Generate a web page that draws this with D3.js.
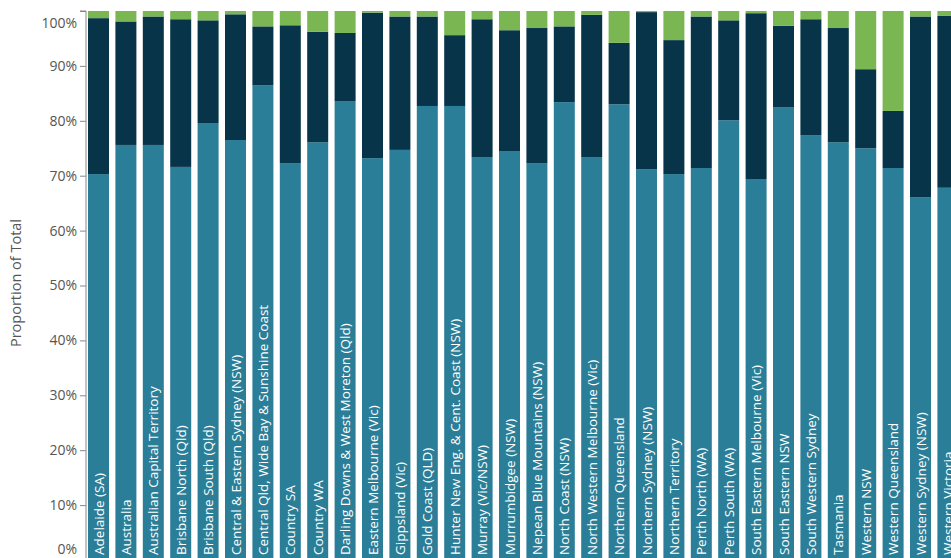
<!DOCTYPE html>
<html>
<head>
<meta charset="utf-8">
<script src="https://cdn.jsdelivr.net/npm/d3@7"></script>
<style>
  html, body { margin: 0; padding: 0; background: #fff; overflow: hidden; }
  svg { display: block; }
</style>
</head>
<body>
<svg id="chart" width="951" height="558"></svg>
<script>
const categories = [
  "Adelaide (SA)", "Australia", "Australian Capital Territory", "Brisbane North (Qld)",
  "Brisbane South (Qld)", "Central & Eastern Sydney (NSW)", "Central Qld, Wide Bay & Sunshine Coast",
  "Country SA", "Country WA", "Darling Downs & West Moreton (Qld)", "Eastern Melbourne (Vic)",
  "Gippsland (Vic)", "Gold Coast (QLD)", "Hunter New Eng. & Cent. Coast (NSW)", "Murray (Vic/NSW)",
  "Murrumbidgee (NSW)", "Nepean Blue Mountains (NSW)", "North Coast (NSW)",
  "North Western Melbourne (Vic)", "Northern Queensland", "Northern Sydney (NSW)",
  "Northern Territory", "Perth North (WA)", "Perth South (WA)", "South Eastern Melbourne (Vic)",
  "South Eastern NSW", "South Western Sydney", "Tasmania", "Western NSW", "Western Queensland",
  "Western Sydney (NSW)", "Western Victoria"
];
// bottom segment (teal), %
const seriesBottom = [70.3, 75.6, 75.6, 71.6, 79.6, 76.5, 86.5, 72.3, 76.1, 83.6, 73.2, 74.7, 82.7, 82.7, 73.4, 74.5,
                      72.3, 83.4, 73.4, 83.0, 71.2, 70.3, 71.4, 80.1, 69.4, 82.5, 77.4, 76.1, 75.0, 71.4, 66.1, 67.8];
// middle segment (dark navy), %
const seriesMiddle = [28.4, 22.5, 23.4, 26.9, 18.7, 22.9, 10.7, 25.1, 20.1, 12.4, 26.5, 24.3, 16.3, 12.9, 25.1, 22.0,
                      24.6, 13.8, 25.9, 11.2, 28.6, 24.4, 27.6, 18.2, 30.2, 14.8, 21.1, 20.8, 14.4, 10.4, 32.9, 31.3];
// top segment (green), %
const seriesTop = [1.3, 1.9, 1.0, 1.5, 1.7, 0.6, 2.8, 2.6, 3.8, 4.0, 0.3, 1.0, 1.0, 4.4, 1.5, 3.5,
                   3.1, 2.8, 0.7, 5.8, 0.2, 5.3, 1.0, 1.7, 0.4, 2.7, 1.5, 3.1, 10.6, 18.2, 1.0, 0.9];
const yTicks = [0, 10, 20, 30, 40, 50, 60, 70, 80, 90, 100];
const yTitle = "Proportion of Total";

const seriesKeys = ["bottom", "middle", "top"];
const colors = { bottom: "#2b7e97", middle: "#08344a", top: "#7ab652" };

const rows = categories.map((c, i) => {
  const tot = seriesBottom[i] + seriesMiddle[i] + seriesTop[i];
  return { cat: c, bottom: seriesBottom[i] / tot * 100, middle: seriesMiddle[i] / tot * 100, top: seriesTop[i] / tot * 100 };
});

const svg = d3.select("#chart");
const axisX = 86;
const x = d3.scaleBand().domain(categories).range([84.8, 84.8 + 32 * 27.4]).paddingInner(0.2336).paddingOuter(0.1168);
const y = d3.scaleLinear().domain([0, 100]).range([560, 11]);

const stack = d3.stack().keys(seriesKeys)(rows);

svg.append("g").selectAll("g").data(stack).join("g")
  .attr("fill", d => colors[d.key])
  .selectAll("rect").data(d => d).join("rect")
  .attr("x", d => x(d.data.cat))
  .attr("width", x.bandwidth())
  .attr("y", d => y(d[1]))
  .attr("height", d => y(d[0]) - y(d[1]));

// labels inside bars
svg.append("g").selectAll("text").data(categories).join("text")
  .attr("transform", d => `translate(${x(d) + x.bandwidth() / 2 + 5},555) rotate(-90)`)
  .attr("fill", "#ffffff")
  .attr("font-family", "Open Sans, sans-serif")
  .attr("font-size", 13.5)
  .text(d => d);

// y axis
const yAxis = d3.axisLeft(y).tickValues(yTicks).tickSize(6).tickFormat(d => d + "%");
const ga = svg.append("g").attr("transform", `translate(${axisX},0)`).call(yAxis);
ga.select(".domain").attr("stroke", "#888").attr("d", "M-6,11H0V560");
ga.selectAll(".tick line").attr("stroke", "#888");
ga.selectAll(".tick text")
  .attr("fill", "#555")
  .attr("font-family", "Open Sans, sans-serif")
  .attr("font-size", 14)
  .attr("x", -9)
  .attr("dy", d => d === 100 ? "1.15em" : d === 0 ? "-0.5em" : "0.32em");

svg.append("text")
  .attr("transform", "translate(21,283) rotate(-90)")
  .attr("text-anchor", "middle")
  .attr("fill", "#555")
  .attr("font-family", "Open Sans, sans-serif")
  .attr("font-size", 14.5)
  .text(yTitle);
</script>
</body>
</html>
